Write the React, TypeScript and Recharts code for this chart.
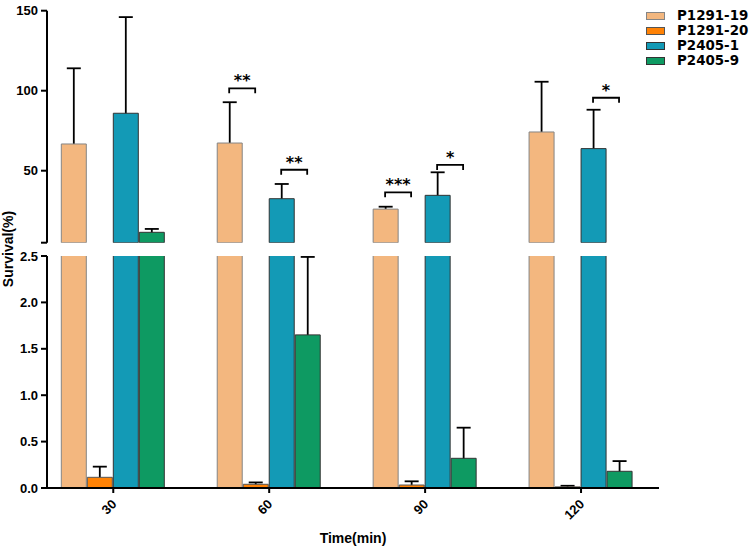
import React from 'react';
import { BarChart, Bar, XAxis, YAxis, ErrorBar, ReferenceDot, Legend, Label } from 'recharts';

// ---- data ----
const categories = [30, 60, 90, 120];
const xTickLabels = ['30', '60', '90', '120'];
const seriesNames = ['P1291-19', 'P1291-20', 'P2405-1', 'P2405-9'];

const p1291_19 = [66.7, 67.3, 26.0, 74.2];
const p1291_19_err = [47.3, 25.5, 1.5, 31.4];
const p1291_20 = [0.115, 0.04, 0.032, 0.012];
const p1291_20_err = [0.115, 0.02, 0.04, 0.012];
const p2405_1 = [85.9, 32.5, 34.6, 63.8];
const p2405_1_err = [60.1, 9.2, 14.4, 24.3];
const p2405_9 = [11.5, 1.65, 0.32, 0.18];
const p2405_9_err = [2.1, 0.84, 0.33, 0.11];

const topTicks = [5, 50, 100, 150];
const bottomTicks = [0, 0.5, 1.0, 1.5, 2.0, 2.5];

// significance brackets: category, first bar index, bracket level (top-segment units), label
const bracketCats = [60, 60, 90, 90, 120];
const bracketBars = [0, 2, 0, 2, 2];
const bracketLevels = [101.5, 50.6, 36.5, 53.6, 95.6];
const bracketLabels = ['**', '**', '***', '*', '*'];

// ---- styling / layout ----
const FONT = 'Liberation Sans, Arial, Helvetica, sans-serif';
const BREAK_LOW = 2.5;
const BREAK_HIGH = 5;
const TOP_DOMAIN = [BREAK_HIGH, 150];
const BOTTOM_DOMAIN = [0, BREAK_LOW];
const X_DOMAIN = [17.25, 135];
const BAR_SIZE = 25;
const BAR_GAP = 1;
// lower end of the (one-sided) error bar is tucked just inside the bar so its cap is hidden
const HIDE_TOP = 2;
const HIDE_BOTTOM = 0.03;

const series = [
  { key: 's0', name: seriesNames[0], values: p1291_19, errors: p1291_19_err, fill: '#F3B77F', stroke: '#858585' },
  { key: 's1', name: seriesNames[1], values: p1291_20, errors: p1291_20_err, fill: '#FF8205', stroke: '#555555' },
  { key: 's2', name: seriesNames[2], values: p2405_1, errors: p2405_1_err, fill: '#139AB6', stroke: '#333333' },
  { key: 's3', name: seriesNames[3], values: p2405_9, errors: p2405_9_err, fill: '#0E9A62', stroke: '#333333' },
];

const topData = categories.map((c, i) => {
  const row: any = { t: c };
  series.forEach((s) => {
    const v = s.values[i];
    row[s.key] = v > BREAK_HIGH ? v : null;
    row[s.key + 'e'] = v > BREAK_HIGH ? [HIDE_TOP, s.errors[i]] : null;
  });
  return row;
});

const bottomData = categories.map((c, i) => {
  const row: any = { t: c };
  series.forEach((s) => {
    const v = s.values[i];
    row[s.key] = v;
    row[s.key + 'e'] = v <= BREAK_LOW ? [Math.min(HIDE_BOTTOM, v), s.errors[i]] : null;
  });
  return row;
});

const brackets = bracketCats.map((c, i) => ({ x: c, bar: bracketBars[i], y: bracketLevels[i], label: bracketLabels[i] }));

const tickStyle = { fill: '#000', fontSize: 13, fontWeight: 700, fontFamily: FONT };
const axisLineStyle = { stroke: '#000', strokeWidth: 2 };

const XTick = (props: any) => {
  const { x, y, payload } = props;
  const idx = categories.indexOf(payload.value);
  return (
    <g transform={`translate(${x + 4},${y + 10})`}>
      <text x={0} y={0} textAnchor="end" transform="rotate(-45)" fill="#000" fontSize={13} fontWeight={700} fontFamily={FONT}>
        {idx >= 0 ? xTickLabels[idx] : payload.value}
      </text>
    </g>
  );
};

const makeBracket = (b: any) => (props: any) => {
  const { cx, cy } = props;
  if (cx == null || cy == null) return null;
  const groupW = BAR_SIZE * 4 + BAR_GAP * 3;
  const c = cx - groupW / 2 + b.bar * (BAR_SIZE + BAR_GAP) + BAR_SIZE / 2;
  const x1 = c - 1;
  const x2 = c + BAR_SIZE;
  return (
    <g>
      <path d={`M${x1},${cy + 5}V${cy}H${x2}V${cy + 5}`} fill="none" stroke="#000" strokeWidth={1.8} />
      <text x={(x1 + x2) / 2} y={cy - 2} textAnchor="middle" fill="#000" fontSize={16} fontWeight={700} fontFamily="DejaVu Sans, sans-serif">
        {b.label}
      </text>
    </g>
  );
};

const LegendBox = () => (
  <div style={{ fontFamily: 'DejaVu Sans, sans-serif', fontWeight: 700, fontSize: 13.4, color: '#000' }}>
    {series.map((s) => (
      <div key={s.key} style={{ display: 'flex', alignItems: 'center', height: 15 }}>
        <span style={{ display: 'inline-block', width: 17, height: 6, background: s.fill, border: `1px solid ${s.stroke}`, marginRight: 12 }} />
        <span style={{ lineHeight: '15px' }}>{s.name}</span>
      </div>
    ))}
  </div>
);

const layer: React.CSSProperties = { position: 'absolute', left: 0, top: 0 };

// layer holding only the error bars (drawn underneath the bars)
function ErrorLayer({ data, height, top, bottom, domain }: any) {
  return (
    <div style={layer}>
      <BarChart width={750} height={height} data={data} margin={{ top, right: 91, bottom, left: 47 }} barSize={BAR_SIZE} barGap={BAR_GAP}>
        <XAxis dataKey="t" type="number" domain={X_DOMAIN} ticks={categories} allowDataOverflow hide />
        <YAxis type="number" domain={domain} allowDataOverflow hide />
        {series.map((s) => (
          <Bar key={s.key} dataKey={s.key} fill="transparent" stroke="none" isAnimationActive={false}>
            <ErrorBar dataKey={s.key + 'e'} direction="y" width={7} stroke="#000" strokeWidth={1.8} />
          </Bar>
        ))}
      </BarChart>
    </div>
  );
}

export default function App() {
  return (
    <div style={{ position: 'absolute', left: 0, top: 0, width: 750, height: 547, background: '#fff' }}>
      <ErrorLayer data={bottomData} height={547} top={256} bottom={59} domain={BOTTOM_DOMAIN} />
      <ErrorLayer data={topData} height={260} top={10.7} bottom={17.3} domain={TOP_DOMAIN} />

      {/* bottom segment */}
      <div style={layer}>
        <BarChart width={750} height={547} data={bottomData} margin={{ top: 256, right: 91, bottom: 0, left: 0 }} barSize={BAR_SIZE} barGap={BAR_GAP}>
          <XAxis
            dataKey="t"
            type="number"
            domain={X_DOMAIN}
            ticks={categories}
            interval={0}
            allowDataOverflow
            height={59}
            tickSize={5}
            tickMargin={2}
            tick={<XTick />}
            axisLine={axisLineStyle}
            tickLine={axisLineStyle}
          >
            <Label value="Time(min)" position="insideBottom" offset={4} fill="#000" fontSize={14} fontWeight={700} fontFamily={FONT} />
          </XAxis>
          <YAxis
            type="number"
            domain={BOTTOM_DOMAIN}
            ticks={bottomTicks}
            allowDataOverflow
            width={47}
            tickSize={6}
            tickMargin={3}
            tick={tickStyle}
            tickFormatter={(v: number) => v.toFixed(1)}
            axisLine={axisLineStyle}
            tickLine={axisLineStyle}
          >
            <Label
              content={() => (
                <text x={13} y={249} transform="rotate(-90, 13, 249)" textAnchor="middle" fill="#000" fontSize={14} fontWeight={700} fontFamily={FONT}>
                  Survival(%)
                </text>
              )}
            />
          </YAxis>
          {series.map((s) => (
            <Bar key={s.key} dataKey={s.key} name={s.name} fill={s.fill} stroke={s.stroke} strokeWidth={1} isAnimationActive={false} />
          ))}
        </BarChart>
      </div>

      {/* top segment */}
      <div style={layer}>
        <BarChart width={750} height={260} data={topData} margin={{ top: 10.7, right: 91, bottom: 17.3, left: 0 }} barSize={BAR_SIZE} barGap={BAR_GAP}>
          <XAxis dataKey="t" type="number" domain={X_DOMAIN} ticks={categories} allowDataOverflow hide />
          <YAxis
            type="number"
            domain={TOP_DOMAIN}
            ticks={topTicks}
            allowDataOverflow
            width={47}
            tickSize={6}
            tickMargin={3}
            tick={tickStyle}
            tickFormatter={(v: number) => (v === TOP_DOMAIN[0] ? '' : String(v))}
            axisLine={axisLineStyle}
            tickLine={axisLineStyle}
          />
          {series.map((s) => (
            <Bar key={s.key} dataKey={s.key} name={s.name} fill={s.fill} stroke={s.stroke} strokeWidth={1} isAnimationActive={false} />
          ))}
          {brackets.map((b, i) => (
            <ReferenceDot key={i} x={b.x} y={b.y} r={0} shape={makeBracket(b)} />
          ))}
          <Legend layout="vertical" align="center" verticalAlign="middle" content={() => <LegendBox />} wrapperStyle={{ left: 646, top: 8, width: 104 }} />
        </BarChart>
      </div>
    </div>
  );
}
